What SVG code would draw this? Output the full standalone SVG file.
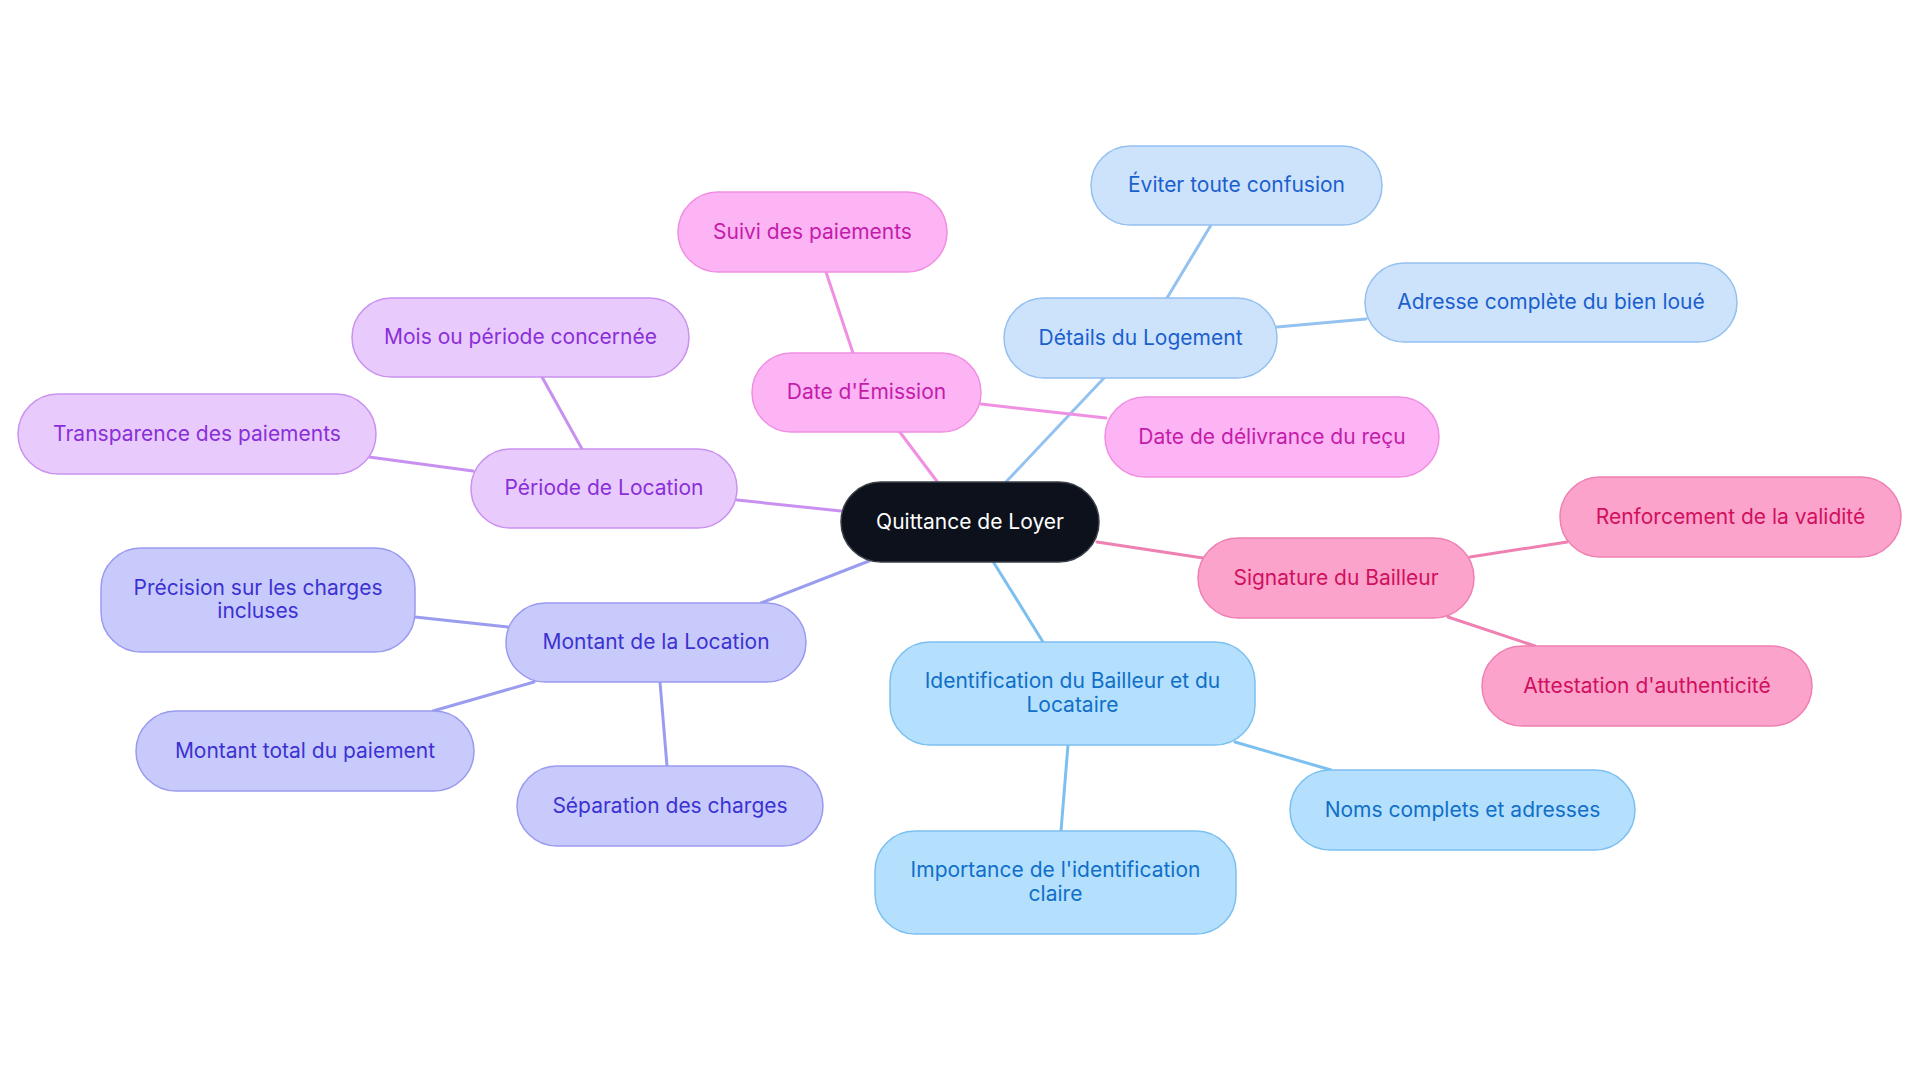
<svg xmlns="http://www.w3.org/2000/svg" width="1920" height="1083" viewBox="0 0 1920 1083">
<style>
text{font-family:Inter,"Noto Sans","Liberation Sans",sans-serif;font-size:21px;text-anchor:middle;dominant-baseline:central}
.c line{stroke-width:3;stroke-linecap:round}
.root rect{fill:#0c111b;stroke:#3a3f48;stroke-width:1.5}
.root text{fill:#ffffff}
.blue rect{fill:#cde3fb;stroke:#94c0f0;stroke-width:1.5}
.blue text{fill:#1b5fce}
.pink rect{fill:#fdb4f4;stroke:#f08ee2;stroke-width:1.5}
.pink text{fill:#c41caa}
.purple rect{fill:#e8cbfc;stroke:#c991f0;stroke-width:1.5}
.purple text{fill:#8a2fd8}
.indigo rect{fill:#c9cafc;stroke:#9a9af0;stroke-width:1.5}
.indigo text{fill:#3b32d2}
.rose rect{fill:#fca3cb;stroke:#ee80b2;stroke-width:1.5}
.rose text{fill:#d0105e}
.sky rect{fill:#b4e0fd;stroke:#7cc0f0;stroke-width:1.5}
.sky text{fill:#106fc8}
</style>
<rect width="1920" height="1083" fill="#ffffff"/>
<g id="connectors" class="c">
<line x1="1005" y1="483" x2="1104" y2="378" stroke="#94c2f0"/>
<line x1="1167" y1="298" x2="1211" y2="225" stroke="#94c2f0"/>
<line x1="1277" y1="327" x2="1366" y2="319" stroke="#94c2f0"/>
<line x1="939" y1="484" x2="899" y2="431" stroke="#f090e2"/>
<line x1="853" y1="353" x2="826" y2="272" stroke="#f090e2"/>
<line x1="981" y1="404" x2="1106" y2="418" stroke="#f090e2"/>
<line x1="841" y1="511" x2="737" y2="500" stroke="#c890f0"/>
<line x1="582" y1="449" x2="542" y2="377" stroke="#c890f0"/>
<line x1="473" y1="471" x2="369" y2="457" stroke="#c890f0"/>
<line x1="869" y1="561" x2="761" y2="603" stroke="#9a9cf0"/>
<line x1="508" y1="627" x2="415" y2="617" stroke="#9a9cf0"/>
<line x1="534" y1="682" x2="433" y2="711" stroke="#9a9cf0"/>
<line x1="660" y1="682" x2="667" y2="766" stroke="#9a9cf0"/>
<line x1="1097" y1="542" x2="1203" y2="558" stroke="#ee80b2"/>
<line x1="1470" y1="557" x2="1567" y2="542" stroke="#ee80b2"/>
<line x1="1448" y1="617" x2="1535" y2="646" stroke="#ee80b2"/>
<line x1="994" y1="563" x2="1043" y2="642" stroke="#7cc0f0"/>
<line x1="1235" y1="742" x2="1331" y2="770" stroke="#7cc0f0"/>
<line x1="1068" y1="745" x2="1061" y2="831" stroke="#7cc0f0"/>
</g>
<g id="root" class="root"><rect x="841" y="482" width="258" height="80" rx="40"/><text x="970" y="521">Quittance de Loyer</text></g>
<g id="details" class="blue"><rect x="1004" y="298" width="273" height="80" rx="40"/><text x="1140.5" y="337">Détails du Logement</text></g>
<g id="eviter" class="blue"><rect x="1091" y="146" width="291" height="79" rx="39.5"/><text x="1236.5" y="184.5">Éviter toute confusion</text></g>
<g id="adresse" class="blue"><rect x="1365" y="263" width="372" height="79" rx="39.5"/><text x="1551" y="301.5">Adresse complète du bien loué</text></g>
<g id="date-emission" class="pink"><rect x="752" y="353" width="229" height="79" rx="39.5"/><text x="866.5" y="391.5">Date d'Émission</text></g>
<g id="suivi" class="pink"><rect x="678" y="192" width="269" height="80" rx="40"/><text x="812.5" y="231">Suivi des paiements</text></g>
<g id="delivrance" class="pink"><rect x="1105" y="397" width="334" height="80" rx="40"/><text x="1272" y="436">Date de délivrance du reçu</text></g>
<g id="periode" class="purple"><rect x="471" y="449" width="266" height="79" rx="39.5"/><text x="604" y="487.5">Période de Location</text></g>
<g id="mois" class="purple"><rect x="352" y="298" width="337" height="79" rx="39.5"/><text x="520.5" y="336.5">Mois ou période concernée</text></g>
<g id="transparence" class="purple"><rect x="18" y="394" width="358" height="80" rx="40"/><text x="197" y="433">Transparence des paiements</text></g>
<g id="montant" class="indigo"><rect x="506" y="603" width="300" height="79" rx="39.5"/><text x="656" y="641.5">Montant de la Location</text></g>
<g id="precision" class="indigo"><rect x="101" y="548" width="314" height="104" rx="40"/><text x="258" y="587">Précision sur les charges</text><text x="258" y="610">incluses</text></g>
<g id="total" class="indigo"><rect x="136" y="711" width="338" height="80" rx="40"/><text x="305" y="750">Montant total du paiement</text></g>
<g id="separation" class="indigo"><rect x="517" y="766" width="306" height="80" rx="40"/><text x="670" y="805">Séparation des charges</text></g>
<g id="signature" class="rose"><rect x="1198" y="538" width="276" height="80" rx="40"/><text x="1336" y="577">Signature du Bailleur</text></g>
<g id="renforcement" class="rose"><rect x="1560" y="477" width="341" height="80" rx="40"/><text x="1730.5" y="516">Renforcement de la validité</text></g>
<g id="attestation" class="rose"><rect x="1482" y="646" width="330" height="80" rx="40"/><text x="1647" y="685">Attestation d'authenticité</text></g>
<g id="identification" class="sky"><rect x="890" y="642" width="365" height="103" rx="40"/><text x="1072.5" y="680.5">Identification du Bailleur et du</text><text x="1072.5" y="704">Locataire</text></g>
<g id="noms" class="sky"><rect x="1290" y="770" width="345" height="80" rx="40"/><text x="1462.5" y="809">Noms complets et adresses</text></g>
<g id="importance" class="sky"><rect x="875" y="831" width="361" height="103" rx="40"/><text x="1055.5" y="869.5">Importance de l'identification</text><text x="1055.5" y="893">claire</text></g>
</svg>
